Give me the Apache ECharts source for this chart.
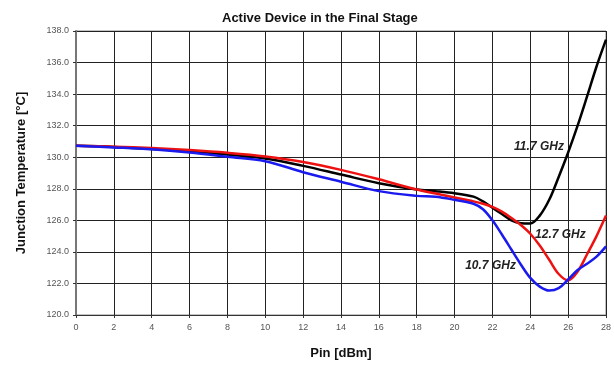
<!DOCTYPE html>
<html>
<head>
<meta charset="utf-8">
<script src="https://cdn.jsdelivr.net/npm/echarts@6/dist/echarts.min.js"></script>
<style>html,body{margin:0;padding:0;background:#fff;}#c{width:614px;height:365px;}</style>
</head>
<body>
<div id="c"></div>
<script>
var pin  = [0,2,4,6,8,10,12,14,16,18,19,20,21,21.5,22,22.5,23,23.5,24,24.5,25,25.5,26,26.5,27,27.5,28];
var t117 = [130.72,130.65,130.52,130.38,130.17,129.92,129.45,128.9,128.35,127.95,127.85,127.72,127.5,127.2,126.8,126.4,126.0,125.82,125.8,126.3,127.3,128.75,130.3,132.0,133.85,135.75,137.45];
var t127 = [130.72,130.67,130.58,130.45,130.28,130.05,129.7,129.2,128.6,127.95,127.7,127.45,127.2,127.05,126.85,126.55,126.15,125.7,125.15,124.4,123.5,122.6,122.2,122.75,123.85,125.0,126.3];
var t107 = [130.72,130.62,130.5,130.3,130.03,129.75,129.05,128.45,127.85,127.55,127.5,127.3,127.05,126.7,126.0,125.1,124.15,123.2,122.35,121.8,121.55,121.7,122.25,122.85,123.25,123.7,124.35];
var seriesNames = ['11.7 GHz','12.7 GHz','10.7 GHz'];
var labelPos = [[24.46,130.67],[25.59,125.11],[21.9,123.15]];
var title = 'Active Device in the Final Stage';
var xName = 'Pin [dBm]';
var yName = 'Junction Temperature [\u00B0C]';

function pairs(ys){ return pin.map(function(x,i){ return [x, ys[i]]; }); }
var FONT = '"Liberation Sans", Arial, sans-serif';
var colors = ['#000000','#ee1111','#1a1aee'];
var datas = [t117, t127, t107];

var chart = echarts.init(document.getElementById('c'), null, {renderer:'canvas'});
chart.setOption({
  backgroundColor:'#ffffff',
  animation:false,
  title:{text:title, left:217, top:7, textStyle:{fontFamily:FONT, fontSize:13, fontWeight:'bold', color:'#111'}},
  grid:{left:76, right:5, top:31, bottom:49, show:true, borderColor:'#888', borderWidth:1},
  xAxis:{type:'value', min:0, max:28, interval:2,
    name:xName, nameLocation:'middle', nameGap:32,
    nameTextStyle:{fontFamily:FONT, fontSize:13, fontWeight:'bold', color:'#111'},
    axisLine:{lineStyle:{color:'#333', width:1}},
    axisTick:{show:true, length:3, lineStyle:{color:'#333'}},
    axisLabel:{fontFamily:FONT, fontSize:9, color:'#555', margin:8},
    splitLine:{show:true, lineStyle:{color:'#222', width:1}}},
  yAxis:{type:'value', min:120, max:138, interval:2,
    name:yName, nameLocation:'middle', nameGap:48, nameRotate:90,
    nameTextStyle:{fontFamily:FONT, fontSize:13, fontWeight:'bold', color:'#111'},
    axisLine:{show:true, lineStyle:{color:'#777', width:2}},
    axisTick:{show:true, length:3, lineStyle:{color:'#333'}},
    axisLabel:{fontFamily:FONT, fontSize:9, color:'#555', margin:7, formatter:function(v){return v.toFixed(1);}},
    splitLine:{show:true, lineStyle:{color:'#222', width:1}}},
  series: datas.map(function(d,i){
    return {type:'line', name:seriesNames[i], data:pairs(d), smooth:0.35, showSymbol:false, symbol:'none',
      lineStyle:{color:colors[i], width:2.5}, z:3+i,
      markPoint:{symbol:'circle', symbolSize:0, silent:true,
        label:{show:true, position:'inside', formatter:seriesNames[i], fontFamily:FONT, fontSize:12, fontWeight:'bold', fontStyle:'italic', color:'#222'},
        data:[{coord:labelPos[i]}]}};
  })
});
</script>
</body>
</html>
